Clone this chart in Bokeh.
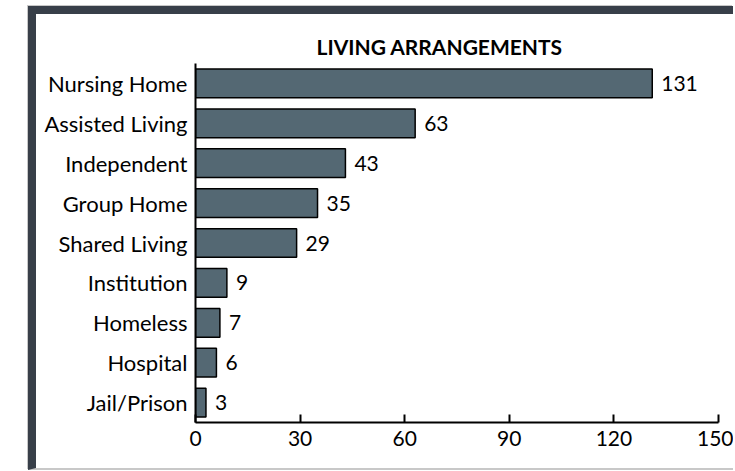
from bokeh.plotting import figure
from bokeh.models import ColumnDataSource, FactorRange, Range1d, FixedTicker, LabelSet
from bokeh.core.properties import value
from bokeh.embed import file_html
from bokeh.resources import INLINE

categories = ["Nursing Home", "Assisted Living", "Independent", "Group Home",
              "Shared Living", "Institution", "Homeless", "Hospital", "Jail/Prison"]
counts = [131, 63, 43, 35, 29, 9, 7, 6, 3]
x_ticks = [0, 30, 60, 90, 120, 150]

FONT = "Lato"
source = ColumnDataSource(data=dict(cat=categories, val=counts,
                                    lbl=[str(v) for v in counts]))

p = figure(y_range=FactorRange(factors=categories[::-1]),
           x_range=Range1d(0, 150),
           width=697, height=454,
           output_backend="svg", toolbar_location=None,
           title="LIVING ARRANGEMENTS",
           min_border_left=159, min_border_right=23,
           min_border_top=49, min_border_bottom=56)

p.styles = {"box-sizing": "content-box",
            "margin-left": "28px",
            "margin-top": "6px",
            "border-left": "8px solid #383f49",
            "border-top": "8px solid #383f49",
            "border-bottom": "2px solid #c8c8c8",
            "box-shadow": "-1px -1px 0 0 #c8c8c8"}

p.hbar(y="cat", right="val", left=0, height=0.72, source=source,
       fill_color="#546873", line_color="black", line_width=1.5)

labels = LabelSet(x="val", y="cat", text="lbl", source=source,
                  x_offset=9, text_baseline="middle",
                  text_font=value(FONT), text_font_size="21px", text_color="black")
p.add_layout(labels)

p.title.text_font = FONT
p.title.text_font_size = "21px"
p.title.text_font_style = "bold"
p.title.text_color = "black"
p.title.align = "left"
p.title.offset = 121

p.xgrid.grid_line_color = None
p.ygrid.grid_line_color = None
p.outline_line_color = None
p.background_fill_color = "white"
p.border_fill_color = "white"

xa = p.xaxis[0]
xa.ticker = FixedTicker(ticks=x_ticks)
xa.axis_line_color = "black"
xa.axis_line_width = 2
xa.major_tick_line_color = "black"
xa.major_tick_line_width = 2
xa.major_tick_in = 8
xa.major_tick_out = 0
xa.minor_tick_line_color = None
xa.major_label_standoff = 8
xa.major_label_text_font = FONT
xa.major_label_text_font_size = "21px"
xa.major_label_text_color = "black"

ya = p.yaxis[0]
ya.axis_line_color = "black"
ya.axis_line_width = 2
ya.major_tick_line_color = None
ya.major_tick_in = 0
ya.major_tick_out = 0
ya.minor_tick_line_color = None
ya.major_label_standoff = 8
ya.major_label_text_font = FONT
ya.major_label_text_font_size = "22px"
ya.major_label_text_color = "black"

open("out.html", "w").write(file_html(p, INLINE))
